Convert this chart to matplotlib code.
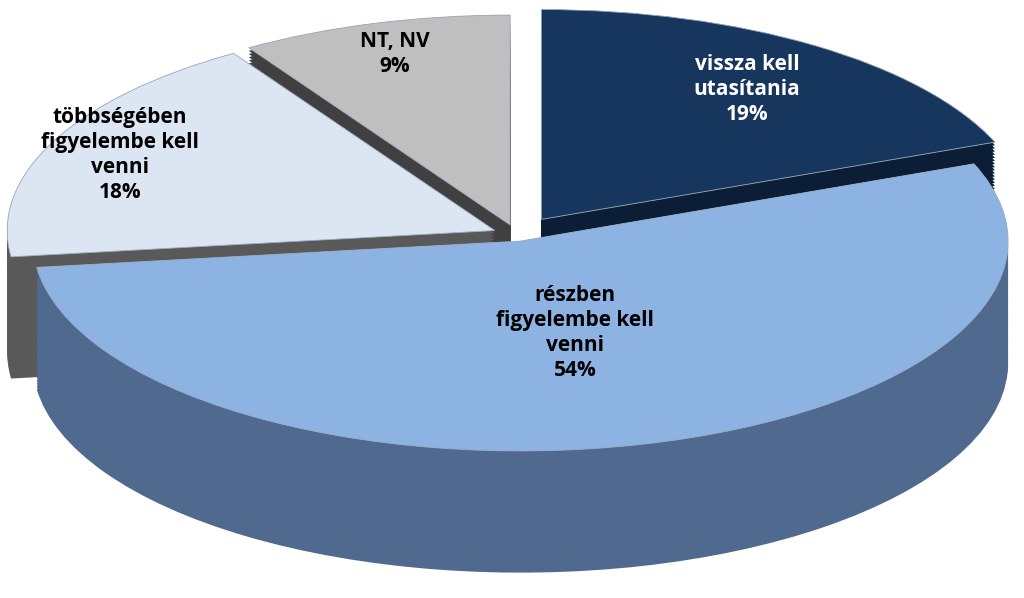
import numpy as np
import matplotlib.pyplot as plt

labels = ["vissza kell\nutasítania", "részben\nfigyelembe kell\nvenni",
          "többségében\nfigyelembe kell\nvenni", "NT, NV"]
shares = [19, 54, 18, 9]
top_colors = ["#17365D", "#8DB3E2", "#DCE6F2", "#BFBFBF"]
side_colors = ["#0C1E36", "#4F6A8E", "#595959", "#404040"]
text_colors = ["white", "black", "black", "black"]
explode = [0.09, 0.03, 0.05, 0.05]
label_dist = [0.75, 0.45, 0.85, 0.85]

fig = plt.figure(figsize=(10.24, 5.98), dpi=100)
ax = fig.add_axes([0, 0, 1, 1])

depth = 0.58
for dy in np.linspace(-depth, 0, 40):
    ax.pie(shares, colors=side_colors, startangle=90, counterclock=False,
           explode=explode, center=(0, dy), radius=1,
           wedgeprops=dict(linewidth=0))
wedges, _ = ax.pie(shares, colors=top_colors, startangle=90, counterclock=False,
                   explode=explode, center=(0, 0), radius=1,
                   wedgeprops=dict(linewidth=0.6, edgecolor="#9DB0C8"))

total = sum(shares)
for w, lab, s, c, ld, ex in zip(wedges, labels, shares, text_colors, label_dist, explode):
    ang = np.deg2rad((w.theta1 + w.theta2) / 2)
    r = ld + ex
    ax.text(r * np.cos(ang), r * np.sin(ang), f"{lab}\n{round(100 * s / total)}%",
            ha="center", va="center", color=c, fontsize=15, fontweight="bold",
            family="Open Sans", linespacing=1.25)

ax.set_aspect("auto")
ax.set_xlim(-1.06, 1.04)
ax.set_ylim(-1.73, 1.12)
ax.axis("off")
fig.savefig("out.png", dpi=100, facecolor="white")
